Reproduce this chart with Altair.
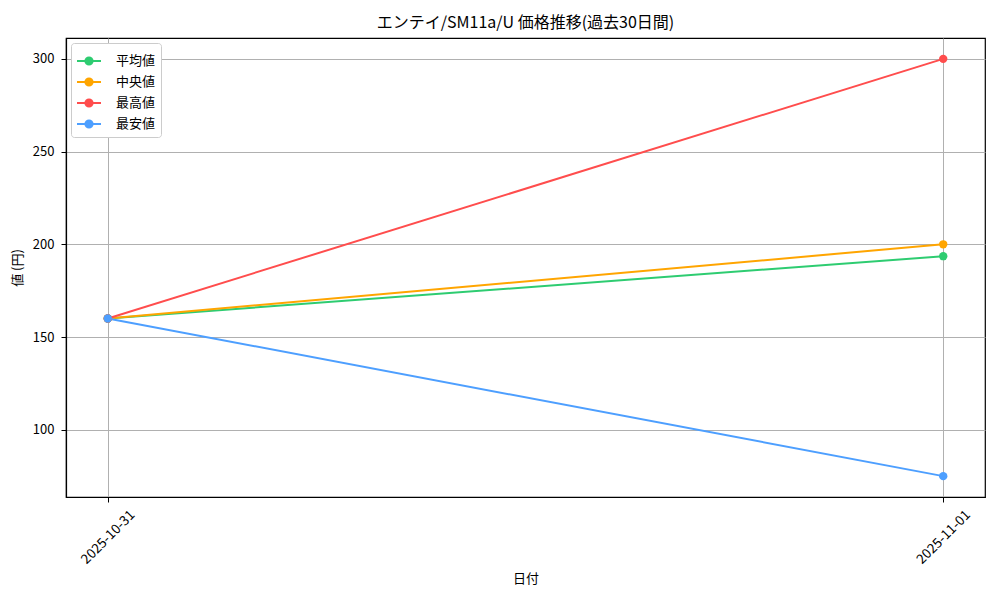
import altair as alt
import pandas as pd

dates = ["2025-10-31", "2025-11-01"]
series = ["平均値", "中央値", "最高値", "最安値"]
colors = ["#2ecc71", "#ffa500", "#ff4d4d", "#4d9fff"]
avg_vals = [160, 193.6]
med_vals = [160, 200]
max_vals = [160, 300]
min_vals = [160, 75]

rows = []
for name, vals in zip(series, [avg_vals, med_vals, max_vals, min_vals]):
    for i, (d, v) in enumerate(zip(dates, vals)):
        rows.append({"idx": i, "date": d, "series": name, "price": v})
df = pd.DataFrame(rows)

FONT = "Noto Sans CJK JP"
label_expr = " : ".join(f"datum.value == {i} ? '{d}'" for i, d in enumerate(dates)) + " : ''"

x = alt.X(
    "idx:Q",
    title="日付",
    scale=alt.Scale(domain=[-0.05, 1.05], nice=False, zero=False),
    axis=alt.Axis(
        values=list(range(len(dates))),
        labelExpr=label_expr,
        labelAngle=-45,
        labelAlign="center",
        labelBaseline="middle",
        labelPadding=35,
        labelFontSize=13.5,
        titlePadding=6,
    ),
)
y = alt.Y(
    "price:Q",
    title="値 (円)",
    scale=alt.Scale(domain=[63.75, 311.25], nice=False, zero=False),
    axis=alt.Axis(values=[100, 150, 200, 250, 300], labelPadding=7, titlePadding=8, labelFontSize=13),
)

sym_path = "M-1,0L1,0M0.3,0A0.3,0.3,0,1,1,-0.3,0A0.3,0.3,0,1,1,0.3,0Z"
color = alt.Color(
    "series:N",
    sort=series,
    scale=alt.Scale(domain=series, range=colors),
    legend=alt.Legend(
        title=None,
        orient="top-left",
        offset=5,
        symbolType=sym_path,
        symbolSize=576,
        symbolStrokeWidth=2,
        labelOffset=14,
        labelFontSize=13,
        labelFont=FONT,
        rowPadding=0,
        padding=5,
        fillColor="white",
        strokeColor="#cccccc",
        cornerRadius=3,
    ),
)

lines = alt.Chart(df).mark_line(strokeWidth=2).encode(
    x=x, y=y, color=color, detail="series:N", order="idx:Q"
)
points = alt.Chart(df).mark_point(filled=True, size=70, opacity=1).encode(
    x=x, y=y, color=color
)

chart = alt.layer(lines, points).properties(
    width=919,
    height=459,
    title=alt.TitleParams(
        "エンテイ/SM11a/U 価格推移(過去30日間)",
        font=FONT, fontSize=16, fontWeight="normal", anchor="middle", frame="group", offset=7, color="black",
    ),
    autosize=alt.AutoSizeParams(type="none"),
    padding={"left": 58, "top": 30, "right": 7, "bottom": 95},
).configure_view(
    stroke="black", strokeWidth=1.2
).configure_axis(
    labelFont=FONT, titleFont=FONT, labelFontSize=12, titleFontSize=13,
    labelColor="black", titleColor="black", titleFontWeight="normal",
    grid=True, gridColor="#b0b0b0", gridWidth=1,
    domainColor="black", domainWidth=1.2,
    tickColor="black", tickSize=5, tickWidth=1,
)

chart.save("out.html", embed_options={"renderer": "svg", "actions": False})
